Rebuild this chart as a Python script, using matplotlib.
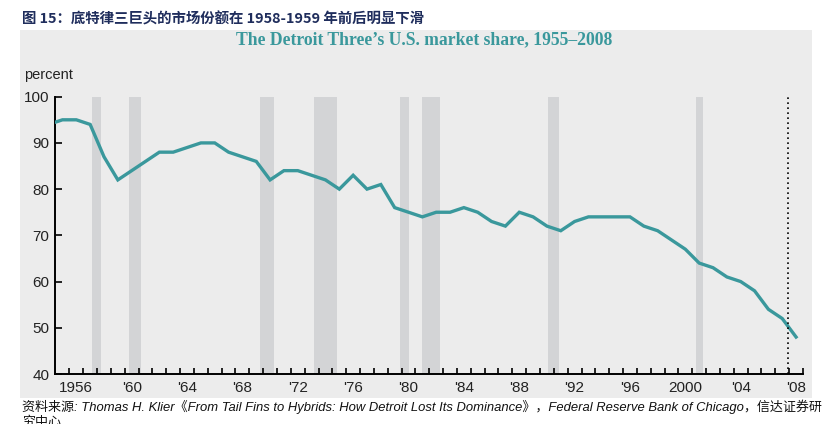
import matplotlib
matplotlib.use("Agg")
import matplotlib.pyplot as plt
from matplotlib.patches import Rectangle

# ---- data ----
years = list(range(1954, 2009))
share = [94, 95, 95, 94, 87, 82, 84, 86, 88, 88, 89,      # 1954-1964
         90, 90, 88, 87, 86, 82, 84, 84, 83, 82,          # 1965-1974
         80, 83, 80, 81, 76, 75, 74, 75, 75, 76,          # 1975-1984
         75, 73, 72, 75, 74, 72, 71, 73, 74, 74,          # 1985-1994
         74, 74, 72, 71, 69, 67, 64, 63, 61, 60,          # 1995-2004
         58, 54, 52, 48]                                  # 2005-2008
# recession shading (start, end) in chart years
recessions = [(1957.15, 1957.8), (1959.8, 1960.65), (1969.3, 1970.25), (1973.2, 1974.8),
              (1979.4, 1980.0), (1980.95, 1982.25), (1990.05, 1990.85), (2000.8, 2001.3)]
xtick_years = list(range(1956, 2009, 4))
xtick_labels = ["1956", "'60", "'64", "'68", "'72", "'76", "'80", "'84",
                "'88", "'92", "'96", "2000", "'04", "'08"]
yticks = [40, 50, 60, 70, 80, 90, 100]
forecast_x = 2007.4

TEAL = "#3a989c"
BG = "#ececec"
BAR = "#d3d4d6"
SANS = ["Liberation Sans", "DejaVu Sans"]

fig = plt.figure(figsize=(8.33, 4.24), dpi=100)
W, H = 833, 424

# grey panel behind the chart
fig.patches.append(Rectangle((20 / W, 1 - 398 / H), 792 / W, 368 / H, transform=fig.transFigure,
                             fc=BG, ec="none", zorder=-5))

ax = fig.add_axes([55 / W, 1 - 374 / H, 748 / W, 277.3 / H])
ax.set_facecolor("none")
ax.set_zorder(2)
ax.set_xlim(1954.46, 2008.46)
ax.set_ylim(40, 100)

for a, b in recessions:
    ax.axvspan(a, b, ymin=0, ymax=1, color=BAR, lw=0, zorder=1)

ax.plot(years, share, color=TEAL, lw=2.4, zorder=3, solid_joinstyle="miter")
ax.plot([forecast_x, forecast_x], [40, 100.6], color="black", lw=1.2, ls=(0, (1, 2)),
        zorder=4, clip_on=False)

for s in ("top", "right"):
    ax.spines[s].set_visible(False)
for s in ("left", "bottom"):
    ax.spines[s].set_linewidth(1.4)
    ax.spines[s].set_color("black")

ax.set_yticks(yticks)
ax.set_yticklabels([str(v) for v in yticks], fontsize=11, family=SANS, color="#222222")
ax.tick_params(axis="y", direction="in", length=5, width=1.2, pad=4)

# labels at the year, ticks at the year boundaries
ax.set_xticks(xtick_years)
ax.set_xticklabels(xtick_labels, fontsize=11, family=SANS, color="#222222")
ax.tick_params(axis="x", which="major", length=0, pad=5)
ax.set_xticks([y + 0.5 for y in range(1955, 2009)], minor=True)
ax.tick_params(axis="x", which="minor", direction="in", length=4, width=1.2)

fig.text(24 / W, 1 - 75 / H, "percent", fontsize=10.5, family=SANS, color="#222222",
         ha="left", va="center")

fig.text(424 / W, 1 - 40 / H, "The Detroit Three\u2019s U.S. market share, 1955\u20132008",
         fontsize=12.7, family=["Liberation Serif", "DejaVu Serif"], weight="bold", color=TEAL,
         ha="center", va="center")

fig.text(22 / W, 1 - 19 / H, "图 15：底特律三巨头的市场份额在 1958-1959 年前后明显下滑",
         fontsize=10.4, family=["Noto Sans CJK SC", "DejaVu Sans"], weight="bold",
         color="#1f2d5c", ha="left", va="center")

# source line (second line is cut by the bottom edge, as in the original)
fig.text(22 / W, 1 - 400 / H,
         "资料来源: Thomas H. Klier《From Tail Fins to Hybrids: How Detroit Lost Its Dominance》，"
         "Federal Reserve Bank of Chicago，信达证券研\n究中心",
         fontsize=9.4, family=["Liberation Sans", "Noto Sans CJK SC", "DejaVu Sans"],
         style="italic", color="#111111", ha="left", va="top", linespacing=1.2)

fig.savefig("out.png", dpi=100)
